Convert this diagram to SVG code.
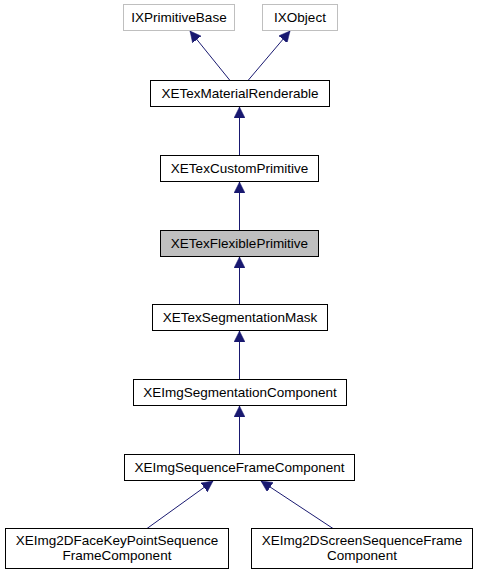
<svg xmlns="http://www.w3.org/2000/svg" width="477" height="575" viewBox="0 0 477 575">
<style>
  .box { fill: #ffffff; stroke: #000000; stroke-width: 1; }
  .gray { fill: #ffffff; stroke: #bfbfbf; stroke-width: 1; }
  .hl { fill: #bfbfbf; stroke: #000000; stroke-width: 1; }
  text { font-family: "Liberation Sans", Arial, Helvetica, sans-serif; font-size: 13.5px; fill: #000000; text-anchor: middle; }
  .edge { stroke: #191970; stroke-width: 1; fill: none; }
</style>
<defs>
  <marker id="arr" markerUnits="userSpaceOnUse" markerWidth="12" markerHeight="11" refX="11" refY="5.5" orient="auto">
    <path d="M0,0 L11,5.5 L0,11 z" fill="#191970" stroke="#191970" stroke-width="0.5"/>
  </marker>
</defs>
<rect width="477" height="575" fill="#ffffff"/>
<g id="edges">
  <line class="edge" x1="230" y1="80.5" x2="190" y2="31" marker-end="url(#arr)"/>
  <line class="edge" x1="248" y1="80.5" x2="290" y2="31" marker-end="url(#arr)"/>
  <line class="edge" x1="239.5" y1="155.5" x2="239.5" y2="107" marker-end="url(#arr)"/>
  <line class="edge" x1="239.5" y1="230.5" x2="239.5" y2="182" marker-end="url(#arr)"/>
  <line class="edge" x1="239.5" y1="304.5" x2="239.5" y2="257" marker-end="url(#arr)"/>
  <line class="edge" x1="239.5" y1="379.5" x2="239.5" y2="331" marker-end="url(#arr)"/>
  <line class="edge" x1="239.5" y1="454.5" x2="239.5" y2="406" marker-end="url(#arr)"/>
  <line class="edge" x1="147" y1="528.5" x2="213" y2="481" marker-end="url(#arr)"/>
  <line class="edge" x1="333" y1="528.5" x2="261" y2="481" marker-end="url(#arr)"/>
</g>
<g id="IXPrimitiveBase">
  <rect class="gray" x="123.5" y="4.5" width="111" height="26"/>
  <text x="179" y="22">IXPrimitiveBase</text>
</g>
<g id="IXObject">
  <rect class="gray" x="262.5" y="4.5" width="75" height="26"/>
  <text x="300" y="22">IXObject</text>
</g>
<g id="XETexMaterialRenderable">
  <rect class="box" x="150.5" y="80.5" width="179" height="26"/>
  <text x="240" y="98">XETexMaterialRenderable</text>
</g>
<g id="XETexCustomPrimitive">
  <rect class="box" x="160.5" y="155.5" width="158" height="26"/>
  <text x="239.5" y="173">XETexCustomPrimitive</text>
</g>
<g id="XETexFlexiblePrimitive">
  <rect class="hl" x="160.5" y="230.5" width="158" height="26"/>
  <text x="239.5" y="248">XETexFlexiblePrimitive</text>
</g>
<g id="XETexSegmentationMask">
  <rect class="box" x="152.5" y="304.5" width="175" height="26"/>
  <text x="240" y="322">XETexSegmentationMask</text>
</g>
<g id="XEImgSegmentationComponent">
  <rect class="box" x="133.5" y="379.5" width="213" height="26"/>
  <text x="240" y="397">XEImgSegmentationComponent</text>
</g>
<g id="XEImgSequenceFrameComponent">
  <rect class="box" x="124.5" y="454.5" width="230" height="26"/>
  <text x="239.5" y="472">XEImgSequenceFrameComponent</text>
</g>
<g id="XEImg2DFaceKeyPointSequenceFrameComponent">
  <rect class="box" x="5.5" y="528.5" width="223" height="40"/>
  <text x="117" y="545">XEImg2DFaceKeyPointSequence</text>
  <text x="117" y="560">FrameComponent</text>
</g>
<g id="XEImg2DScreenSequenceFrameComponent">
  <rect class="box" x="251.5" y="528.5" width="221" height="40"/>
  <text x="362" y="545">XEImg2DScreenSequenceFrame</text>
  <text x="362" y="560">Component</text>
</g>
</svg>
